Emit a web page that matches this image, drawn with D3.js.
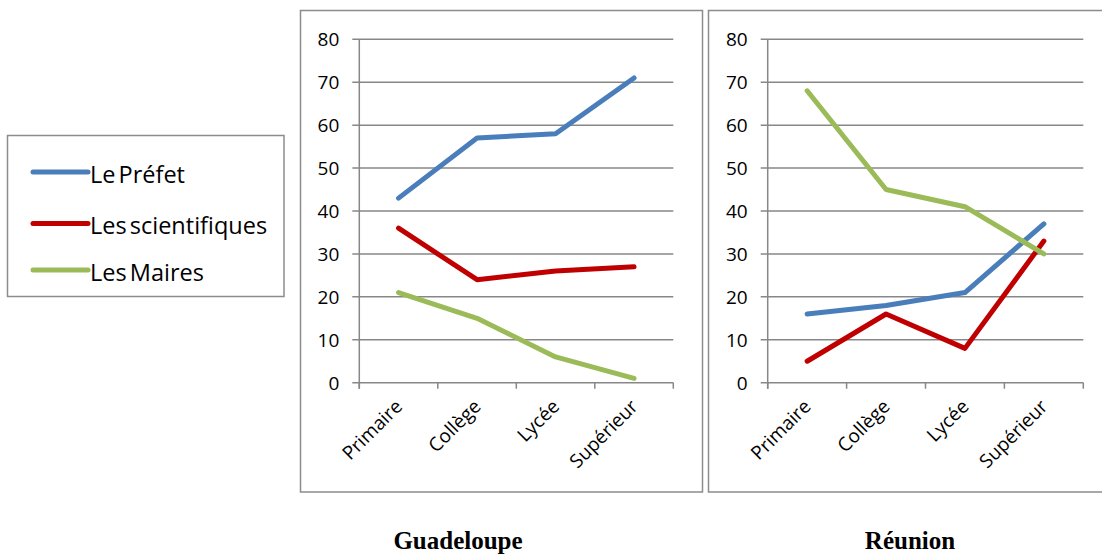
<!DOCTYPE html>
<html><head><meta charset="utf-8">
<script src="https://cdn.jsdelivr.net/npm/d3@7"></script>
<style>
html,body{margin:0;padding:0;background:#fff;}
svg{display:block;}
</style></head>
<body>
<svg id="chart" width="1102" height="556"></svg>
<script>
const categories = ["Primaire", "Collège", "Lycée", "Supérieur"];
const seriesNames = ["Le Préfet", "Les scientifiques", "Les Maires"];
const seriesColors = ["#4A7EBB", "#C00000", "#9BBB59"];
const panelTitles = ["Guadeloupe", "Réunion"];
const yTicks = [0, 10, 20, 30, 40, 50, 60, 70, 80];

const guadeloupePrefet = [43, 57, 58, 71];
const guadeloupeScientifiques = [36, 24, 26, 27];
const guadeloupeMaires = [21, 15, 6, 1];

const reunionPrefet = [16, 18, 21, 37];
const reunionScientifiques = [5, 16, 8, 33];
const reunionMaires = [68, 45, 41, 30];

const panelData = [
  [guadeloupePrefet, guadeloupeScientifiques, guadeloupeMaires],
  [reunionPrefet, reunionScientifiques, reunionMaires]
];

const svg = d3.select("#chart");
const font = "'Open Sans', sans-serif";
const gridColor = "#878787";

const panels = [
  {box: [300.5, 10.5, 402, 481.5], plot: [359.3, 673.3], titleX: 458},
  {box: [708.5, 10.5, 420, 481.5], plot: [767.7, 1083.3], titleX: 910}
];
const yTop = 39.3, yBottom = 382.7;

panels.forEach((p, i) => {
  const g = svg.append("g");
  g.append("rect")
    .attr("x", p.box[0]).attr("y", p.box[1])
    .attr("width", p.box[2]).attr("height", p.box[3])
    .attr("fill", "#fff").attr("stroke", "#8c8c8c").attr("stroke-width", 1.5);

  const x = d3.scaleBand().domain(categories).range(p.plot).padding(0);
  const y = d3.scaleLinear().domain([0, 80]).range([yBottom, yTop]);

  g.append("g").selectAll("line").data(yTicks).join("line")
    .attr("x1", p.plot[0] - 7).attr("x2", p.plot[1])
    .attr("y1", d => y(d)).attr("y2", d => y(d))
    .attr("stroke", gridColor).attr("stroke-width", 1.5);

  g.append("line")
    .attr("x1", p.plot[0]).attr("x2", p.plot[0])
    .attr("y1", yTop).attr("y2", yBottom + 6)
    .attr("stroke", gridColor).attr("stroke-width", 1.5);

  g.append("g").selectAll("text").data(yTicks).join("text")
    .attr("x", p.plot[0] - 20).attr("y", d => y(d)).attr("dy", "0.36em")
    .attr("text-anchor", "end")
    .attr("font-family", font).attr("font-size", 19).attr("fill", "#000")
    .text(d => d);

  const bounds = categories.map(c => x(c)).concat([p.plot[1]]);
  g.append("g").selectAll("line").data(bounds).join("line")
    .attr("x1", d => d).attr("x2", d => d)
    .attr("y1", yBottom).attr("y2", yBottom + 6)
    .attr("stroke", gridColor).attr("stroke-width", 1.5);

  g.append("g").selectAll("text").data(categories).join("text")
    .attr("transform", d => `translate(${x(d) + x.bandwidth() / 2 + 5},${yBottom + 25}) rotate(-45)`)
    .attr("text-anchor", "end")
    .attr("font-family", font).attr("font-size", 19).attr("fill", "#000")
    .text(d => d);

  const line = d3.line()
    .x((d, j) => x(categories[j]) + x.bandwidth() / 2)
    .y(d => y(d));
  panelData[i].forEach((vals, s) => {
    g.append("path").datum(vals)
      .attr("d", line)
      .attr("fill", "none")
      .attr("stroke", seriesColors[s]).attr("stroke-width", 5)
      .attr("stroke-linecap", "round").attr("stroke-linejoin", "round");
  });

  svg.append("text")
    .attr("x", p.titleX).attr("y", 549)
    .attr("text-anchor", "middle")
    .attr("font-family", "'Liberation Serif', serif").attr("font-weight", "bold")
    .attr("font-size", 25).attr("fill", "#000")
    .text(panelTitles[i]);
});

const lg = svg.append("g");
lg.append("rect").attr("x", 7.5).attr("y", 135.5).attr("width", 276.5).attr("height", 161)
  .attr("fill", "#fff").attr("stroke", "#8c8c8c").attr("stroke-width", 1.5);
const legendY = [172, 223.5, 270];
seriesNames.forEach((n, s) => {
  lg.append("line")
    .attr("x1", 33).attr("x2", 88)
    .attr("y1", legendY[s]).attr("y2", legendY[s])
    .attr("stroke", seriesColors[s]).attr("stroke-width", 5).attr("stroke-linecap", "round");
  lg.append("text")
    .attr("x", 90).attr("y", legendY[s]).attr("dy", "0.45em")
    .attr("font-family", font).attr("font-size", 23.5).attr("fill", "#000")
    .attr("word-spacing", "-3px")
    .text(n);
});
</script>
</body></html>
